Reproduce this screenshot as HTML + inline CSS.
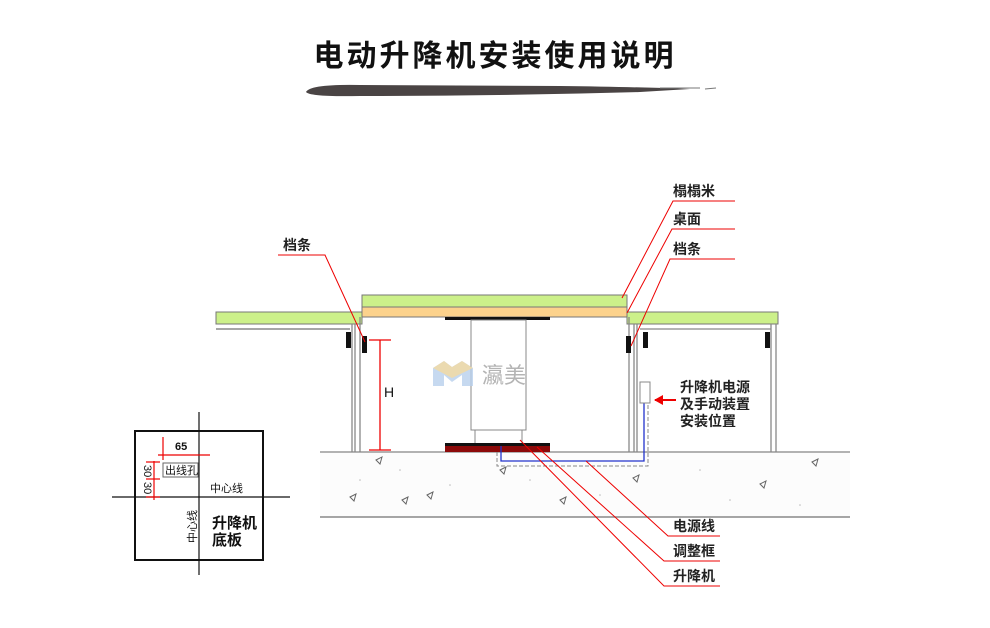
<!DOCTYPE html>
<html><head><meta charset="utf-8"><style>
html,body{margin:0;padding:0;background:#fff;}
svg{display:block;}
text{font-family:"Liberation Sans","Noto Sans CJK SC",sans-serif;}
</style></head><body>
<svg width="990" height="628" viewBox="0 0 990 628" xmlns="http://www.w3.org/2000/svg">
<!-- title -->
<text x="495" y="66" text-anchor="middle" font-size="30" font-family="'Noto Serif CJK SC','Liberation Serif',serif" font-weight="bold" fill="#111" letter-spacing="3">电动升降机安装使用说明</text>
<path d="M306,92 Q310,84 360,85 L560,86 Q640,87 690,89 L640,92 Q500,96 360,96 Q310,97 306,92 Z" fill="#4a4444"/>
<path d="M660,88 L700,88 M705,89 L716,88" stroke="#777" stroke-width="1"/>

<!-- ground -->
<rect x="320" y="452" width="530" height="65" fill="#fcfcfc"/>
<line x1="320" y1="452" x2="850" y2="452" stroke="#999" stroke-width="1.5"/>
<line x1="320" y1="517" x2="850" y2="517" stroke="#888" stroke-width="1.5"/>
<g fill="none" stroke="#666" stroke-width="1">
<path d="M376,460 l6,-3 l-2,7z"/><path d="M350,497 l6,-3 l-2,7z"/><path d="M427,495 l6,-3 l-2,7z"/>
<path d="M500,470 l6,-3 l-2,7z"/><path d="M633,478 l6,-3 l-2,7z"/><path d="M560,500 l6,-3 l-2,7z"/>
<path d="M760,484 l6,-3 l-2,7z"/><path d="M812,462 l6,-3 l-2,7z"/><path d="M402,500 l6,-3 l-2,7z"/>
</g>
<g fill="#bbb"><circle cx="400" cy="470" r=".8"/><circle cx="450" cy="485" r=".8"/><circle cx="530" cy="480" r=".8"/><circle cx="600" cy="495" r=".8"/><circle cx="700" cy="470" r=".8"/><circle cx="730" cy="500" r=".8"/><circle cx="800" cy="505" r=".8"/><circle cx="360" cy="480" r=".8"/></g>

<!-- floor boards -->
<rect x="216" y="312" width="146" height="12" fill="#ccf08a" stroke="#777"/>
<rect x="627" y="312" width="151" height="12" fill="#ccf08a" stroke="#777"/>
<rect x="362" y="295" width="265" height="12" fill="#ccf08a" stroke="#777"/>
<rect x="362" y="307" width="265" height="10" fill="#fcd28c" stroke="#777"/>
<line x1="216" y1="329" x2="350" y2="329" stroke="#888" stroke-width="1.5"/>
<!-- posts -->
<g stroke="#888" stroke-width="1.3">
<line x1="352" y1="324" x2="352" y2="452"/><line x1="355" y1="324" x2="355" y2="452"/><line x1="360" y1="317" x2="360" y2="452"/>
<line x1="629" y1="317" x2="629" y2="452"/><line x1="634" y1="324" x2="634" y2="452"/><line x1="637" y1="324" x2="637" y2="452"/>
<line x1="771" y1="324" x2="771" y2="452"/><line x1="776" y1="324" x2="776" y2="452"/>
<line x1="640" y1="329" x2="771" y2="329"/>
</g>
<g fill="#111">
<rect x="346" y="332" width="5" height="16"/><rect x="362" y="336" width="5" height="17"/>
<rect x="626" y="336" width="5" height="17"/><rect x="643" y="332" width="5" height="16"/><rect x="765" y="332" width="5" height="16"/>
</g>

<!-- lift column -->
<rect x="445" y="317" width="105" height="3" fill="#111"/>
<rect x="471" y="320" width="55" height="110" fill="#fff" stroke="#888"/>
<rect x="475" y="430" width="47" height="14" fill="#fff" stroke="#888"/>
<rect x="445" y="443" width="105" height="3" fill="#111"/>
<rect x="445" y="446" width="105" height="6" fill="#8c0a0a"/>

<!-- watermark -->
<path d="M433,368 L444,361 L452,367 L462,361 L473,368 L473,386 L462,386 L462,375 L452,382 L444,375 L444,386 L433,386 Z" fill="#b8d0ec" opacity=".8"/>
<path d="M433,368 L444,361 L452,367 L462,361 L473,368 L452,378 Z" fill="#f4d9a0" opacity=".8"/>
<text x="482" y="383" font-size="22" fill="#b4b4b4">瀛美</text>

<!-- wire -->
<path d="M497,452 L497,466 L648,466 L648,403" fill="none" stroke="#888" stroke-width="1" stroke-dasharray="4,2"/>
<path d="M501,446 L501,461 L644,461 L644,403" fill="none" stroke="#23c" stroke-width="1.3"/>
<rect x="640" y="382" width="10" height="21" fill="#fff" stroke="#888"/>
<line x1="655" y1="400" x2="676" y2="400" stroke="#e00" stroke-width="2"/>
<path d="M654,400 L663,395 L663,405Z" fill="#e00"/>
<text x="680" y="392" font-size="14" font-weight="bold" fill="#222">升降机电源</text>
<text x="680" y="409" font-size="14" font-weight="bold" fill="#222">及手动装置</text>
<text x="680" y="426" font-size="14" font-weight="bold" fill="#222">安装位置</text>

<!-- H -->
<g stroke="#e00" stroke-width="1.3">
<line x1="380" y1="340" x2="380" y2="450"/><line x1="369" y1="340" x2="391" y2="340"/><line x1="369" y1="450" x2="391" y2="450"/>
</g>
<text x="384" y="397" font-size="14" fill="#111">H</text>

<!-- leader lines -->
<g stroke="#e00" stroke-width="1" fill="none">
<path d="M278,255 L325,255 L365,342"/>
<path d="M735,201 L673,201 L622,298"/>
<path d="M735,229 L672,229 L627,313"/>
<path d="M735,259 L670,259 L631,346"/>
<path d="M720,536 L668,536 L586,461"/>
<path d="M720,561 L664,561 L537,447"/>
<path d="M720,586 L664,586 L520,440"/>
</g>
<g font-size="14" font-weight="bold" fill="#222">
<text x="283" y="250">档条</text>
<text x="673" y="196">榻榻米</text>
<text x="673" y="224">桌面</text>
<text x="673" y="254">档条</text>
<text x="673" y="531">电源线</text>
<text x="673" y="556">调整框</text>
<text x="673" y="581">升降机</text>
</g>

<!-- inset -->
<rect x="135" y="431" width="128" height="129" fill="none" stroke="#111" stroke-width="2"/>
<line x1="199" y1="412" x2="199" y2="575" stroke="#111" stroke-width="1.2"/>
<line x1="112" y1="497" x2="290" y2="497" stroke="#111" stroke-width="1.2"/>
<g stroke="#e00" stroke-width="1.2">
<line x1="158" y1="455" x2="210" y2="455"/><line x1="163" y1="437" x2="163" y2="460"/>
<line x1="154" y1="461" x2="154" y2="500"/><line x1="146" y1="462" x2="160" y2="462"/><line x1="146" y1="479" x2="160" y2="479"/><line x1="146" y1="497" x2="160" y2="497"/>
</g>
<text x="175" y="450" font-size="11" font-weight="bold" fill="#111">65</text>
<text transform="translate(144,465) rotate(90)" font-size="11" fill="#111">30</text>
<text transform="translate(144,482) rotate(90)" font-size="11" fill="#111">30</text>
<rect x="163" y="463" width="35" height="14" fill="#fff" stroke="#666"/>
<text x="165" y="474" font-size="11" fill="#111">出线孔</text>
<text x="210" y="492" font-size="11" fill="#111">中心线</text>
<text transform="translate(196,543) rotate(-90)" font-size="11" fill="#111">中心线</text>
<text x="212" y="528" font-size="15" font-weight="bold" fill="#111">升降机</text>
<text x="212" y="545" font-size="15" font-weight="bold" fill="#111">底板</text>
</svg>
</body></html>
